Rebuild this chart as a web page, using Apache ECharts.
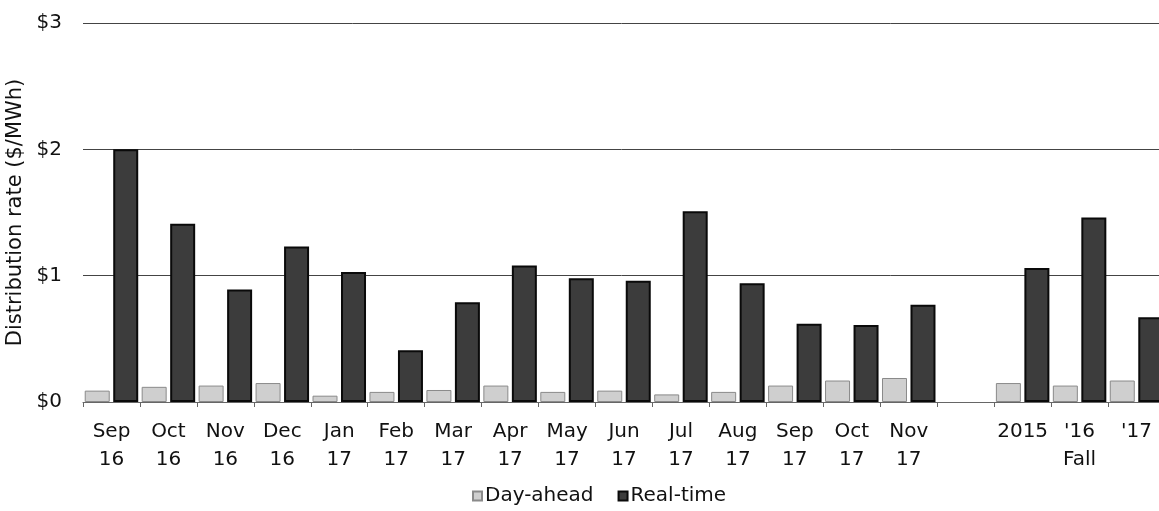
<!DOCTYPE html>
<html>
<head>
<meta charset="utf-8">
<script src="https://cdn.jsdelivr.net/npm/echarts@6/dist/echarts.min.js"></script>
<style>
  html, body { margin: 0; padding: 0; background: #fff; }
  #chart { width: 1159px; height: 511px; }
</style>
</head>
<body>
<div id="chart"></div>
<script>
// months, a blank spacer slot, then the three fall averages
const categories = [
  'Sep\n16', 'Oct\n16', 'Nov\n16', 'Dec\n16', 'Jan\n17', 'Feb\n17', 'Mar\n17', 'Apr\n17',
  'May\n17', 'Jun\n17', 'Jul\n17', 'Aug\n17', 'Sep\n17', 'Oct\n17', 'Nov\n17',
  '', '2015', "'16\nFall", "'17"
];
const dayAhead = [0.09, 0.12, 0.13, 0.15, 0.05, 0.08, 0.095, 0.13, 0.08, 0.09, 0.06, 0.08, 0.13, 0.17, 0.19, null, 0.15, 0.13, 0.17];
const realTime = [2.0, 1.41, 0.89, 1.23, 1.03, 0.41, 0.79, 1.08, 0.98, 0.96, 1.51, 0.94, 0.62, 0.61, 0.77, null, 1.06, 1.46, 0.67];
const yTicks = [0, 1, 2, 3];

const font = '"DejaVu Sans", sans-serif';
const chart = echarts.init(document.getElementById('chart'));

chart.setOption({
  animation: false,
  textStyle: { fontFamily: font },
  grid: { left: 83, right: -6, top: 23, bottom: 109, outerBoundsMode: 'none' },
  legend: {
    top: 481,
    left: 467,
    icon: 'rect',
    itemWidth: 9,
    itemHeight: 9,
    itemGap: 24,
    textStyle: { fontFamily: font, fontSize: 20, color: '#111', padding: [0, 0, 0, -2] },
    data: ['Day-ahead', 'Real-time']
  },
  xAxis: {
    type: 'category',
    data: categories,
    axisLine: { lineStyle: { color: '#666', width: 1 } },
    axisTick: { show: true, length: 5, lineStyle: { color: '#666' } },
    axisLabel: {
      interval: 0,
      fontFamily: font,
      fontSize: 20,
      color: '#111',
      lineHeight: 28,
      margin: 16
    }
  },
  yAxis: {
    type: 'value',
    min: yTicks[0],
    max: yTicks[yTicks.length - 1],
    interval: 1,
    name: 'Distribution rate ($/MWh)',
    nameLocation: 'middle',
    nameGap: 54,
    nameTextStyle: { fontFamily: font, fontSize: 21, color: '#111' },
    axisLine: { show: false },
    axisTick: { show: false },
    axisLabel: {
      fontFamily: font,
      fontSize: 20,
      color: '#111',
      margin: 21,
      formatter: v => '$' + v
    },
    splitLine: { lineStyle: { color: '#444', width: 1 } }
  },
  series: [
    {
      name: 'Day-ahead',
      type: 'bar',
      data: dayAhead,
      barWidth: 25,
      barGap: '14%',
      itemStyle: { color: '#cfcfcf', borderColor: '#8a8a8a', borderWidth: 1 }
    },
    {
      name: 'Real-time',
      type: 'bar',
      data: realTime,
      barWidth: 25,
      itemStyle: { color: '#3c3c3c', borderColor: '#0a0a0a', borderWidth: 2 }
    }
  ]
});
</script>
</body>
</html>
